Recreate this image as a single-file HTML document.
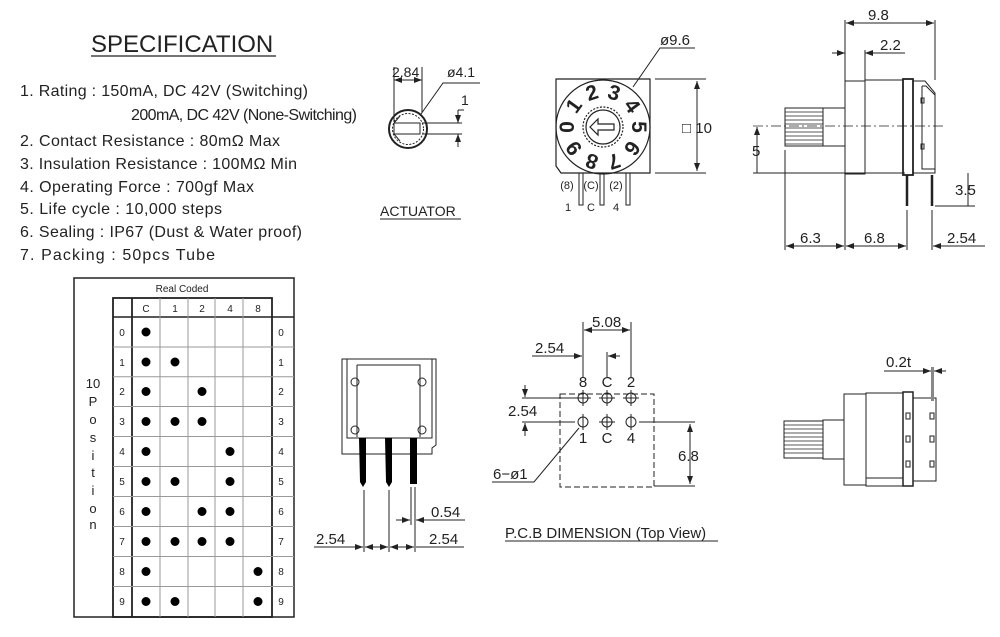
<!DOCTYPE html>
<html><head><meta charset="utf-8"><style>
html,body{margin:0;padding:0;background:#fff}
svg{display:block}
text{font-family:"Liberation Sans",sans-serif;fill:#222}
</style></head><body>
<svg width="1000" height="637" viewBox="0 0 1000 637" xmlns="http://www.w3.org/2000/svg">
<defs>
<marker id="a" markerWidth="8" markerHeight="6" refX="8" refY="3" orient="auto-start-reverse" markerUnits="userSpaceOnUse"><path d="M0,0 L8,3 L0,6 z" fill="#222"/></marker>
</defs>
<!-- Specification -->
<text x="91" y="52" font-size="24">SPECIFICATION</text>
<line x1="91" y1="56" x2="276" y2="56" stroke="#222" stroke-width="1.2"/>
<g font-size="16">
<text x="20" y="96" textLength="288" lengthAdjust="spacing">1. Rating : 150mA, DC 42V (Switching)</text>
<text x="131" y="120" textLength="226" lengthAdjust="spacing">200mA, DC 42V (None-Switching)</text>
<text x="20" y="146" textLength="260" lengthAdjust="spacing">2. Contact Resistance : 80mΩ Max</text>
<text x="20" y="169" textLength="277" lengthAdjust="spacing">3. Insulation Resistance : 100MΩ Min</text>
<text x="20" y="192" textLength="234" lengthAdjust="spacing">4. Operating Force : 700gf Max</text>
<text x="20" y="214" textLength="202" lengthAdjust="spacing">5. Life cycle : 10,000 steps</text>
<text x="20" y="237" textLength="282" lengthAdjust="spacing">6. Sealing : IP67 (Dust &amp; Water proof)</text>
<text x="20" y="260" textLength="195" lengthAdjust="spacing">7. Packing : 50pcs Tube</text>
</g>

<!-- Table -->
<g stroke="#222" fill="none">
<rect x="74" y="278" width="220" height="339" stroke-width="1.5"/>
<rect x="113" y="298" width="159" height="319" stroke-width="1.8"/>
<line x1="132" y1="298" x2="132" y2="617" stroke-width="1.8"/>
<line x1="113" y1="317" x2="294" y2="317" stroke-width="1.5"/>
<g stroke="#999" stroke-width="1">
<line x1="160" y1="298" x2="160" y2="617"/><line x1="188" y1="298" x2="188" y2="617"/>
<line x1="215" y1="298" x2="215" y2="617"/><line x1="243" y1="298" x2="243" y2="617"/>
<line x1="113" y1="347" x2="294" y2="347"/><line x1="113" y1="376.7" x2="294" y2="376.7"/>
<line x1="113" y1="406.5" x2="294" y2="406.5"/><line x1="113" y1="436.5" x2="294" y2="436.5"/>
<line x1="113" y1="466.5" x2="294" y2="466.5"/><line x1="113" y1="496.5" x2="294" y2="496.5"/>
<line x1="113" y1="526.5" x2="294" y2="526.5"/><line x1="113" y1="556.5" x2="294" y2="556.5"/>
<line x1="113" y1="586.5" x2="294" y2="586.5"/>
</g></g>
<text x="182" y="292" font-size="10" text-anchor="middle">Real Coded</text>
<g font-size="10" text-anchor="middle"><text x="146" y="312">C</text><text x="175" y="312" fill="#666">1</text><text x="202" y="312" fill="#666">2</text><text x="230" y="312" fill="#666">4</text><text x="258" y="312" fill="#666">8</text></g>
<g font-size="10" text-anchor="middle" fill="#666">
<text x="122" y="336" fill="#666">0</text><text x="122" y="366" fill="#666">1</text><text x="122" y="395" fill="#666">2</text><text x="122" y="425" fill="#666">3</text><text x="122" y="455" fill="#666">4</text><text x="122" y="485" fill="#666">5</text><text x="122" y="515" fill="#666">6</text><text x="122" y="545" fill="#666">7</text><text x="122" y="575" fill="#666">8</text><text x="122" y="605" fill="#666">9</text>
<text x="281" y="336" fill="#666">0</text><text x="281" y="366" fill="#666">1</text><text x="281" y="395" fill="#666">2</text><text x="281" y="425" fill="#666">3</text><text x="281" y="455" fill="#666">4</text><text x="281" y="485" fill="#666">5</text><text x="281" y="515" fill="#666">6</text><text x="281" y="545" fill="#666">7</text><text x="281" y="575" fill="#666">8</text><text x="281" y="605" fill="#666">9</text>
</g>
<g fill="#000">
<circle cx="146" cy="332" r="4.5"/>
<circle cx="146" cy="362" r="4.5"/><circle cx="175" cy="362" r="4.5"/>
<circle cx="146" cy="391.5" r="4.5"/><circle cx="202" cy="391.5" r="4.5"/>
<circle cx="146" cy="421.5" r="4.5"/><circle cx="175" cy="421.5" r="4.5"/><circle cx="202" cy="421.5" r="4.5"/>
<circle cx="146" cy="451.5" r="4.5"/><circle cx="230" cy="451.5" r="4.5"/>
<circle cx="146" cy="481.5" r="4.5"/><circle cx="175" cy="481.5" r="4.5"/><circle cx="230" cy="481.5" r="4.5"/>
<circle cx="146" cy="511.5" r="4.5"/><circle cx="202" cy="511.5" r="4.5"/><circle cx="230" cy="511.5" r="4.5"/>
<circle cx="146" cy="541.5" r="4.5"/><circle cx="175" cy="541.5" r="4.5"/><circle cx="202" cy="541.5" r="4.5"/><circle cx="230" cy="541.5" r="4.5"/>
<circle cx="146" cy="571.5" r="4.5"/><circle cx="258" cy="571.5" r="4.5"/>
<circle cx="146" cy="601.5" r="4.5"/><circle cx="175" cy="601.5" r="4.5"/><circle cx="258" cy="601.5" r="4.5"/>
</g>
<g font-size="13" text-anchor="middle">
<text x="93" y="388">10</text><text x="93" y="406">P</text><text x="93" y="424">o</text><text x="93" y="442">s</text><text x="93" y="460">i</text><text x="93" y="477">t</text><text x="93" y="495">i</text><text x="93" y="513">o</text><text x="93" y="529">n</text>
</g>

<!-- Actuator -->
<g stroke="#222" fill="none" stroke-width="1">
<circle cx="408" cy="129" r="19" stroke-width="2"/>
<circle cx="408" cy="129" r="15.5" stroke-dasharray="2 1.5"/>
<path d="M394,123 H420 V134 H394 L400,141 M394,123 L400,116 M394,123 L394,134"/>
<line x1="394" y1="67" x2="394" y2="122"/><line x1="422" y1="67" x2="422" y2="113"/>
<line x1="394" y1="80" x2="422" y2="80" marker-start="url(#a)" marker-end="url(#a)"/>
<path d="M421,114 L443,83 H480"/>
<line x1="422" y1="123" x2="462" y2="123"/><line x1="422" y1="134" x2="462" y2="134"/>
<line x1="458" y1="110" x2="458" y2="123" marker-end="url(#a)"/><line x1="458" y1="147" x2="458" y2="134" marker-end="url(#a)"/>
<line x1="458" y1="110" x2="464" y2="110"/>
</g>
<text x="392" y="77" font-size="14">2.84</text>
<text x="447" y="77" font-size="14">ø4.1</text>
<text x="461" y="105" font-size="14">1</text>
<text x="380" y="216" font-size="14">ACTUATOR</text>
<line x1="380" y1="219" x2="461" y2="219" stroke="#222"/>

<!-- Rotary top view -->
<g stroke="#222" fill="none" stroke-width="1.2">
<path d="M556,79 H650 V173 H561 L556,166 Z"/>
<circle cx="603" cy="127" r="47"/>
<circle cx="603" cy="127" r="20" stroke-dasharray="2 1.5"/>
<circle cx="603" cy="127" r="17"/>
<path d="M590,127 L598,119 V124 H614 V130 H598 V135 Z"/>
<path d="M633,87 L660,48 H695" stroke-width="1"/>
<line x1="655" y1="79" x2="706" y2="79" stroke-width="1"/><line x1="655" y1="173" x2="706" y2="173" stroke-width="1"/>
<line x1="697" y1="81" x2="697" y2="171" stroke-width="1" marker-start="url(#a)" marker-end="url(#a)"/>
<path d="M579,173 V205 H583 V173 M600,173 V205 H604 V173 M626,173 V205 H630 V173" stroke-width="1"/>
</g>
<text x="660" y="45" font-size="15">ø9.6</text>
<text x="682" y="133" font-size="15">□ 10</text>
<g font-size="11" text-anchor="middle"><text x="567" y="189">(8)</text><text x="591" y="189">(C)</text><text x="616" y="189">(2)</text><text x="568" y="211">1</text><text x="591" y="211">C</text><text x="616" y="211">4</text></g>
<g font-size="21" font-weight="bold" text-anchor="middle" fill="#000">
<text transform="translate(603,127) rotate(-90) translate(0,-29)">0</text>
<text transform="translate(603,127) rotate(-54) translate(0,-29)">1</text>
<text transform="translate(603,127) rotate(-18) translate(0,-29)">2</text>
<text transform="translate(603,127) rotate(18) translate(0,-29)">3</text>
<text transform="translate(603,127) rotate(54) translate(0,-29)">4</text>
<text transform="translate(603,127) rotate(90) translate(0,-29)">5</text>
<text transform="translate(603,127) rotate(126) translate(0,-29)">6</text>
<text transform="translate(603,127) rotate(162) translate(0,-29)">7</text>
<text transform="translate(603,127) rotate(198) translate(0,-29)">8</text>
<text transform="translate(603,127) rotate(234) translate(0,-29)">9</text>
</g>

<!-- Side view right -->
<g stroke="#222" fill="none" stroke-width="1">
<line x1="845" y1="20" x2="845" y2="250"/><line x1="935" y1="20" x2="935" y2="80"/>
<line x1="846" y1="23" x2="934" y2="23" marker-start="url(#a)" marker-end="url(#a)"/>
<line x1="865" y1="50" x2="865" y2="80"/>
<line x1="832" y1="53" x2="845" y2="53" marker-end="url(#a)"/><line x1="905" y1="53" x2="865" y2="53" marker-end="url(#a)"/>
<rect x="845" y="81" width="20" height="93"/>
<rect x="865" y="80" width="38" height="93"/>
<rect x="903" y="79" width="10" height="96" stroke-width="1.8"/>
<path d="M913,81 H925 L935,93 V173 H913"/>
<path d="M922,86 V169 H935 M922,86 H926 L935,95"/>
<rect x="921" y="98" width="3" height="5"/><rect x="921" y="144" width="3" height="5"/>
<rect x="823" y="108" width="22" height="38"/>
<rect x="785" y="108" width="38" height="38"/>
<path d="M785,112H823M785,116H823M785,120H823M785,124H823M785,128H823M785,132H823M785,136H823M785,140H823M785,144H823" stroke-width="0.8"/>
<line x1="753" y1="126" x2="945" y2="126" stroke-dasharray="10 3 2 3" stroke-width="0.7"/>
<line x1="753" y1="173" x2="905" y2="173"/>
<line x1="757" y1="173" x2="757" y2="127" marker-end="url(#a)"/>
<line x1="907" y1="175" x2="907" y2="206" stroke-width="2.5"/><line x1="932" y1="175" x2="932" y2="206" stroke-width="2.5"/>
<line x1="935" y1="206" x2="975" y2="206"/>
<line x1="968" y1="173" x2="968" y2="206"/>
<line x1="785" y1="150" x2="785" y2="250"/><line x1="907" y1="210" x2="907" y2="250"/><line x1="932" y1="210" x2="932" y2="250"/>
<line x1="786" y1="246" x2="844" y2="246" marker-start="url(#a)" marker-end="url(#a)"/>
<line x1="846" y1="246" x2="906" y2="246" marker-start="url(#a)" marker-end="url(#a)"/>
<line x1="985" y1="246" x2="933" y2="246" marker-end="url(#a)"/>
</g>
<g font-size="15"><text x="868" y="20">9.8</text><text x="880" y="50">2.2</text><text x="752" y="156">5</text><text x="955" y="195">3.5</text><text x="800" y="243">6.3</text><text x="864" y="243">6.8</text><text x="947" y="243">2.54</text></g>

<!-- Front view bottom middle -->
<g stroke="#222" fill="none" stroke-width="1">
<path d="M342,359 H436 V445 L432,448 V454 H342 Z"/>
<path d="M347,359 V438 H432 V359"/>
<path d="M357,365 H420 V437 M357,365 V437"/>
<circle cx="355" cy="382" r="4"/><circle cx="422" cy="382" r="4"/><circle cx="355" cy="430" r="4"/><circle cx="422" cy="430" r="4"/>
<line x1="364" y1="490" x2="364" y2="552"/><line x1="389" y1="490" x2="389" y2="552"/>
<line x1="411" y1="487" x2="411" y2="525"/><line x1="415" y1="487" x2="415" y2="552"/>
<line x1="396" y1="520" x2="410" y2="520" marker-end="url(#a)"/><line x1="465" y1="520" x2="416" y2="520" marker-end="url(#a)"/>
<line x1="314" y1="547" x2="363" y2="547" marker-end="url(#a)"/>
<line x1="365" y1="547" x2="388" y2="547" marker-start="url(#a)" marker-end="url(#a)"/>
<line x1="390" y1="547" x2="414" y2="547" marker-start="url(#a)" marker-end="url(#a)"/>
<line x1="464" y1="547" x2="416" y2="547"/>
</g>
<g fill="#000"><path d="M359,438 H366 V482 L363,487 L360,482 Z"/><path d="M385,438 H392 V482 L389,487 L386,482 Z"/><path d="M410,438 H417 V484 H410 Z"/></g>
<g font-size="15"><text x="431" y="517">0.54</text><text x="316" y="544">2.54</text><text x="429" y="544">2.54</text></g>

<!-- PCB -->
<g stroke="#222" fill="none" stroke-width="1">
<rect x="560" y="394" width="94" height="93" stroke-dasharray="6 3"/>
<circle cx="583" cy="398" r="5"/><circle cx="607" cy="398" r="5"/><circle cx="631" cy="398" r="5"/>
<circle cx="583" cy="422" r="5"/><circle cx="607" cy="422" r="5"/><circle cx="631" cy="422" r="5"/>
<path d="M575,398H591M599,398H615M623,398H639M607,390V406M631,390V406M583,390V406 M599,422H615M607,414V430M583,414V430M631,414V430"/>
<line x1="522" y1="398" x2="575" y2="398"/><line x1="522" y1="422" x2="575" y2="422"/>
<line x1="639" y1="422" x2="695" y2="422"/><line x1="654" y1="486" x2="695" y2="486"/>
<line x1="690" y1="424" x2="690" y2="484" marker-start="url(#a)" marker-end="url(#a)"/>
<line x1="525" y1="385" x2="525" y2="397" marker-end="url(#a)"/><line x1="525" y1="436" x2="525" y2="423" marker-end="url(#a)"/>
<line x1="583" y1="322" x2="583" y2="377"/><line x1="631" y1="322" x2="631" y2="377"/>
<line x1="584" y1="330" x2="630" y2="330" marker-start="url(#a)" marker-end="url(#a)"/>
<line x1="607" y1="352" x2="607" y2="377"/>
<line x1="532" y1="356" x2="582" y2="356" marker-end="url(#a)"/><line x1="620" y1="356" x2="608" y2="356" marker-end="url(#a)"/>
<path d="M579,428 L534,482 H492"/>
</g>
<g font-size="15" text-anchor="middle"><text x="583" y="387">8</text><text x="607" y="387">C</text><text x="631" y="387">2</text><text x="583" y="443">1</text><text x="607" y="443">C</text><text x="631" y="443">4</text></g>
<g font-size="15"><text x="592" y="327">5.08</text><text x="535" y="353">2.54</text><text x="508" y="416">2.54</text><text x="678" y="461">6.8</text><text x="493" y="479">6−ø1</text></g>
<text x="505" y="538" font-size="15">P.C.B DIMENSION (Top View)</text>
<line x1="505" y1="541" x2="718" y2="541" stroke="#222"/>

<!-- Bottom right view -->
<g stroke="#222" fill="none" stroke-width="1">
<rect x="784" y="421" width="39" height="37"/>
<path d="M784,425H823M784,429H823M784,433H823M784,437H823M784,441H823M784,445H823M784,449H823M784,453H823" stroke-width="0.8"/>
<rect x="823" y="420" width="21" height="39"/>
<rect x="844" y="394" width="22" height="91"/>
<rect x="866" y="393" width="37" height="93"/>
<line x1="866" y1="478" x2="903" y2="478"/>
<rect x="903" y="392" width="10" height="94" stroke-width="1.5"/>
<rect x="913" y="398" width="23" height="83"/>
<rect x="906" y="413" width="4" height="6"/><rect x="906" y="436" width="4" height="6"/><rect x="906" y="461" width="4" height="6"/>
<rect x="930" y="413" width="4" height="6"/><rect x="930" y="436" width="4" height="6"/><rect x="930" y="461" width="4" height="6"/>
<line x1="884" y1="371" x2="931" y2="371" marker-end="url(#a)"/><line x1="946" y1="371" x2="934" y2="371" marker-end="url(#a)"/>
</g>
<rect x="931" y="367" width="3" height="34" fill="#888"/>
<text x="886" y="367" font-size="15">0.2t</text>
</svg>
</body></html>
